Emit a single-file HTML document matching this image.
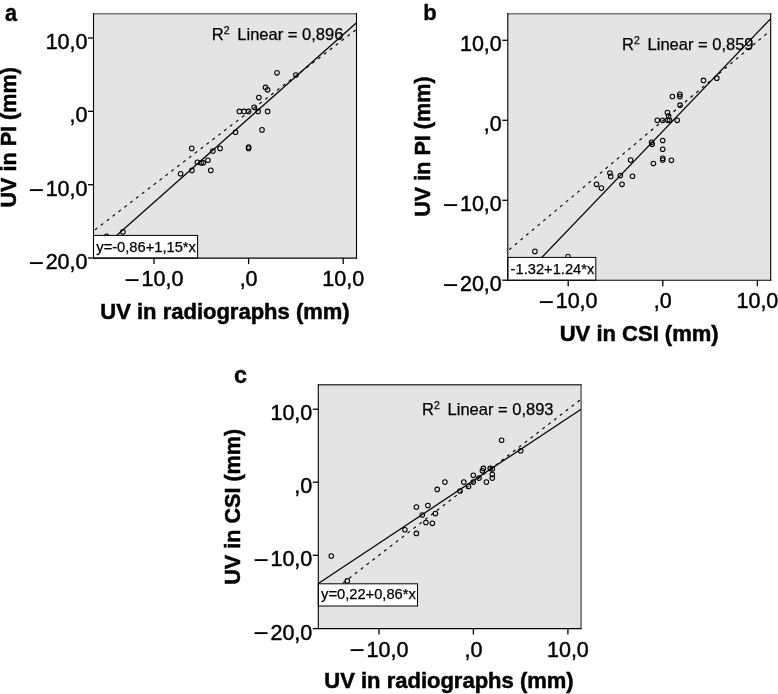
<!DOCTYPE html>
<html><head><meta charset="utf-8"><title>Figure</title>
<style>
html,body{margin:0;padding:0;background:#fff;}
body{width:778px;height:694px;overflow:hidden;}
svg{display:block;font-family:"Liberation Sans",sans-serif;fill:#000;}
</style></head><body>
<svg width="778" height="694" viewBox="0 0 778 694">
<rect width="778" height="694" fill="#fff"/>
<clipPath id="clip0"><rect x="93.5" y="13.75" width="263.0" height="244.35000000000002"/></clipPath>
<rect x="93.5" y="13.75" width="263.0" height="244.35000000000002" fill="#e4e4e4"/>
<g clip-path="url(#clip0)">
<line x1="93.5" y1="231.0" x2="356.5" y2="29.4" stroke="#000" stroke-width="1.15" stroke-dasharray="3.0 4.4" stroke-dashoffset="-1.8"/>
<line x1="93.5" y1="256.0" x2="356.5" y2="22.8" stroke="#000" stroke-width="1.25"/>
<g fill="none" stroke="#000" stroke-width="1.05"><circle cx="277.0" cy="72.8" r="2.3"/><circle cx="295.9" cy="75.0" r="2.3"/><circle cx="265.5" cy="87.4" r="2.3"/><circle cx="267.6" cy="89.8" r="2.3"/><circle cx="258.9" cy="97.6" r="2.3"/><circle cx="254.2" cy="107.3" r="2.3"/><circle cx="239.4" cy="111.4" r="2.3"/><circle cx="244.1" cy="111.4" r="2.3"/><circle cx="248.6" cy="111.4" r="2.3"/><circle cx="258.1" cy="111.4" r="2.3"/><circle cx="267.6" cy="111.4" r="2.3"/><circle cx="262.0" cy="129.9" r="2.3"/><circle cx="235.5" cy="132.2" r="2.3"/><circle cx="248.6" cy="147.0" r="2.3"/><circle cx="248.6" cy="148.4" r="2.3"/><circle cx="191.7" cy="148.4" r="2.3"/><circle cx="220.1" cy="148.4" r="2.3"/><circle cx="212.9" cy="151.1" r="2.3"/><circle cx="207.9" cy="160.2" r="2.3"/><circle cx="197.4" cy="162.2" r="2.3"/><circle cx="201.1" cy="162.8" r="2.3"/><circle cx="203.2" cy="162.8" r="2.3"/><circle cx="210.8" cy="170.4" r="2.3"/><circle cx="191.9" cy="170.4" r="2.3"/><circle cx="180.6" cy="173.7" r="2.3"/><circle cx="122.9" cy="231.9" r="2.3"/><circle cx="106.7" cy="236.2" r="2.3"/></g>
</g>
<rect x="93.5" y="235.4" width="104.1" height="22.700000000000017" fill="#fff" stroke="#000" stroke-width="1"/>
<text x="96.3" y="251.50000000000003" font-size="14.7" stroke="#000" stroke-width="0.25">y=-0,86+1,15*x</text>
<line x1="93.0" y1="13.75" x2="357.0" y2="13.75" stroke="#787878" stroke-width="1.5"/>
<line x1="356.5" y1="13.25" x2="356.5" y2="258.6" stroke="#000" stroke-width="1.1"/>
<line x1="93.5" y1="13.05" x2="93.5" y2="258.6" stroke="#000" stroke-width="1.1"/>
<line x1="93.0" y1="258.1" x2="357.0" y2="258.1" stroke="#000" stroke-width="1.1"/>
<line x1="88.0" y1="38.0" x2="93.5" y2="38.0" stroke="#000" stroke-width="1.3"/>
<text x="87.5" y="49.1" font-size="21.5" text-anchor="end" stroke="#000" stroke-width="0.45">10,0</text>
<line x1="88.0" y1="111.35" x2="93.5" y2="111.35" stroke="#000" stroke-width="1.3"/>
<text x="87.5" y="122.44999999999999" font-size="21.5" text-anchor="end" stroke="#000" stroke-width="0.45">,0</text>
<line x1="88.0" y1="184.7" x2="93.5" y2="184.7" stroke="#000" stroke-width="1.3"/>
<text x="87.5" y="195.79999999999998" font-size="21.5" text-anchor="end" stroke="#000" stroke-width="0.45"><tspan font-size="26.7" dy="2.7" stroke="none">−</tspan><tspan dy="-2.7" dx="1.3">10,0</tspan></text>
<line x1="88.0" y1="258.0" x2="93.5" y2="258.0" stroke="#000" stroke-width="1.3"/>
<text x="87.5" y="269.1" font-size="21.5" text-anchor="end" stroke="#000" stroke-width="0.45"><tspan font-size="26.7" dy="2.7" stroke="none">−</tspan><tspan dy="-2.7" dx="1.3">20,0</tspan></text>
<line x1="154" y1="258.1" x2="154" y2="264.1" stroke="#000" stroke-width="1.3"/>
<text x="154" y="286.1" font-size="21.5" text-anchor="middle" stroke="#000" stroke-width="0.45"><tspan font-size="26.7" dy="2.7" stroke="none">−</tspan><tspan dy="-2.7" dx="1.3">10,0</tspan></text>
<line x1="248.6" y1="258.1" x2="248.6" y2="264.1" stroke="#000" stroke-width="1.3"/>
<text x="248.6" y="286.1" font-size="21.5" text-anchor="middle" stroke="#000" stroke-width="0.45">,0</text>
<line x1="343.2" y1="258.1" x2="343.2" y2="264.1" stroke="#000" stroke-width="1.3"/>
<text x="343.2" y="286.1" font-size="21.5" text-anchor="middle" stroke="#000" stroke-width="0.45">10,0</text>
<text x="211.8" y="40.2" font-size="16.5" stroke="#000" stroke-width="0.25">R<tspan font-size="10.5" dy="-6">2</tspan><tspan dy="6" dx="3.2"> Linear = 0,896</tspan></text>
<text transform="translate(5.1,20.5) scale(1.08,1.18)" font-size="20" font-weight="bold" stroke="#000" stroke-width="0.3">a</text>
<text x="225" y="319.0" font-size="22.0" font-weight="bold" text-anchor="middle" stroke="#000" stroke-width="0.5">UV in radiographs (mm)</text>
<text transform="translate(16,137.3) rotate(-90)" font-size="21.6" font-weight="bold" text-anchor="middle" stroke="#000" stroke-width="0.5">UV in PI (mm)</text>
<clipPath id="clip1"><rect x="507.8" y="13.75" width="262.90000000000003" height="266.45"/></clipPath>
<rect x="507.8" y="13.75" width="262.90000000000003" height="266.45" fill="#e4e4e4"/>
<g clip-path="url(#clip1)">
<line x1="507.8" y1="250.8" x2="770.5" y2="30.4" stroke="#000" stroke-width="1.15" stroke-dasharray="3.0 4.4" stroke-dashoffset="-1.8"/>
<line x1="507.8" y1="292.9" x2="770.5" y2="18.9" stroke="#000" stroke-width="1.25"/>
<g fill="none" stroke="#000" stroke-width="1.05"><circle cx="703.5" cy="80.4" r="2.3"/><circle cx="716.8" cy="78.2" r="2.3"/><circle cx="672.4" cy="96.5" r="2.3"/><circle cx="679.9" cy="94.3" r="2.3"/><circle cx="679.9" cy="96.5" r="2.3"/><circle cx="680.1" cy="105.2" r="2.3"/><circle cx="667.4" cy="112.5" r="2.3"/><circle cx="668.6" cy="116.1" r="2.3"/><circle cx="657.3" cy="120.3" r="2.3"/><circle cx="662.7" cy="120.3" r="2.3"/><circle cx="667.8" cy="120.3" r="2.3"/><circle cx="669.6" cy="120.3" r="2.3"/><circle cx="677.2" cy="120.3" r="2.3"/><circle cx="662.7" cy="140.5" r="2.3"/><circle cx="651.6" cy="142.3" r="2.3"/><circle cx="652.2" cy="144.3" r="2.3"/><circle cx="662.7" cy="149.2" r="2.3"/><circle cx="662.7" cy="158.4" r="2.3"/><circle cx="662.7" cy="160.1" r="2.3"/><circle cx="671.4" cy="160.3" r="2.3"/><circle cx="653.4" cy="163.5" r="2.3"/><circle cx="630.6" cy="160.1" r="2.3"/><circle cx="609.9" cy="173.0" r="2.3"/><circle cx="610.7" cy="176.4" r="2.3"/><circle cx="620.3" cy="175.6" r="2.3"/><circle cx="632.5" cy="176.2" r="2.3"/><circle cx="622.0" cy="184.3" r="2.3"/><circle cx="596.5" cy="184.3" r="2.3"/><circle cx="601.4" cy="188.1" r="2.3"/><circle cx="534.9" cy="251.4" r="2.3"/><circle cx="568.0" cy="256.5" r="2.3"/></g>
</g>
<rect x="507.8" y="257.4" width="87.99999999999994" height="22.80000000000001" fill="#fff" stroke="#000" stroke-width="1"/>
<text x="510.6" y="273.59999999999997" font-size="14.7" stroke="#000" stroke-width="0.25">-1.32+1.24*x</text>
<line x1="507.3" y1="13.75" x2="771.2" y2="13.75" stroke="#787878" stroke-width="1.5"/>
<line x1="770.7" y1="13.25" x2="770.7" y2="280.7" stroke="#000" stroke-width="1.1"/>
<line x1="507.8" y1="13.05" x2="507.8" y2="280.7" stroke="#000" stroke-width="1.1"/>
<line x1="507.3" y1="280.2" x2="771.2" y2="280.2" stroke="#000" stroke-width="1.1"/>
<line x1="502.3" y1="40.3" x2="507.8" y2="40.3" stroke="#000" stroke-width="1.3"/>
<text x="501.8" y="51.4" font-size="21.5" text-anchor="end" stroke="#000" stroke-width="0.45">10,0</text>
<line x1="502.3" y1="120.3" x2="507.8" y2="120.3" stroke="#000" stroke-width="1.3"/>
<text x="501.8" y="131.4" font-size="21.5" text-anchor="end" stroke="#000" stroke-width="0.45">,0</text>
<line x1="502.3" y1="200.3" x2="507.8" y2="200.3" stroke="#000" stroke-width="1.3"/>
<text x="501.8" y="211.4" font-size="21.5" text-anchor="end" stroke="#000" stroke-width="0.45"><tspan font-size="26.7" dy="2.7" stroke="none">−</tspan><tspan dy="-2.7" dx="1.3">10,0</tspan></text>
<line x1="502.3" y1="280.2" x2="507.8" y2="280.2" stroke="#000" stroke-width="1.3"/>
<text x="501.8" y="291.3" font-size="21.5" text-anchor="end" stroke="#000" stroke-width="0.45"><tspan font-size="26.7" dy="2.7" stroke="none">−</tspan><tspan dy="-2.7" dx="1.3">20,0</tspan></text>
<line x1="568.2" y1="280.2" x2="568.2" y2="286.2" stroke="#000" stroke-width="1.3"/>
<text x="568.2" y="308.2" font-size="21.5" text-anchor="middle" stroke="#000" stroke-width="0.45"><tspan font-size="26.7" dy="2.7" stroke="none">−</tspan><tspan dy="-2.7" dx="1.3">10,0</tspan></text>
<line x1="662.8" y1="280.2" x2="662.8" y2="286.2" stroke="#000" stroke-width="1.3"/>
<text x="662.8" y="308.2" font-size="21.5" text-anchor="middle" stroke="#000" stroke-width="0.45">,0</text>
<line x1="757.4" y1="280.2" x2="757.4" y2="286.2" stroke="#000" stroke-width="1.3"/>
<text x="757.4" y="308.2" font-size="21.5" text-anchor="middle" stroke="#000" stroke-width="0.45">10,0</text>
<text x="622" y="49.8" font-size="16.5" stroke="#000" stroke-width="0.25">R<tspan font-size="10.5" dy="-6">2</tspan><tspan dy="6" dx="3.2"> Linear = 0,859</tspan></text>
<text transform="translate(423.2,20.2) scale(1.1,1.13)" font-size="20" font-weight="bold" stroke="#000" stroke-width="0.3">b</text>
<text x="639.2" y="340.5" font-size="22.0" font-weight="bold" text-anchor="middle" stroke="#000" stroke-width="0.5">UV in CSI (mm)</text>
<text transform="translate(430,146.6) rotate(-90)" font-size="21.6" font-weight="bold" text-anchor="middle" stroke="#000" stroke-width="0.5">UV in PI (mm)</text>
<clipPath id="clip2"><rect x="318.3" y="384.7" width="262.8" height="243.90000000000003"/></clipPath>
<rect x="318.3" y="384.7" width="262.8" height="243.90000000000003" fill="#e4e4e4"/>
<g clip-path="url(#clip2)">
<line x1="318.3" y1="602.1" x2="581.1" y2="399.2" stroke="#000" stroke-width="1.15" stroke-dasharray="3.0 4.4" stroke-dashoffset="-1.8"/>
<line x1="318.3" y1="583.5" x2="581.1" y2="409.2" stroke="#000" stroke-width="1.25"/>
<g fill="none" stroke="#000" stroke-width="1.05"><circle cx="501.6" cy="440.2" r="2.3"/><circle cx="520.7" cy="450.7" r="2.3"/><circle cx="483.4" cy="468.4" r="2.3"/><circle cx="482.4" cy="470.8" r="2.3"/><circle cx="490.3" cy="468.4" r="2.3"/><circle cx="492.3" cy="469.0" r="2.3"/><circle cx="492.3" cy="474.5" r="2.3"/><circle cx="492.3" cy="478.1" r="2.3"/><circle cx="486.4" cy="482.1" r="2.3"/><circle cx="473.3" cy="475.3" r="2.3"/><circle cx="479.0" cy="478.1" r="2.3"/><circle cx="473.3" cy="482.1" r="2.3"/><circle cx="463.8" cy="482.1" r="2.3"/><circle cx="468.5" cy="486.4" r="2.3"/><circle cx="444.9" cy="482.1" r="2.3"/><circle cx="437.2" cy="489.4" r="2.3"/><circle cx="460.0" cy="491.0" r="2.3"/><circle cx="416.4" cy="507.1" r="2.3"/><circle cx="427.9" cy="505.5" r="2.3"/><circle cx="422.3" cy="515.0" r="2.3"/><circle cx="435.4" cy="513.6" r="2.3"/><circle cx="425.9" cy="522.5" r="2.3"/><circle cx="432.4" cy="523.3" r="2.3"/><circle cx="404.9" cy="529.7" r="2.3"/><circle cx="416.4" cy="533.4" r="2.3"/><circle cx="331.3" cy="556.0" r="2.3"/><circle cx="347.3" cy="580.9" r="2.3"/></g>
</g>
<rect x="318.3" y="583.8" width="99.19999999999999" height="22.200000000000045" fill="#fff" stroke="#000" stroke-width="1"/>
<text x="321.1" y="599.4" font-size="14.7" stroke="#000" stroke-width="0.25">y=0,22+0,86*x</text>
<line x1="317.8" y1="384.7" x2="581.6" y2="384.7" stroke="#444" stroke-width="1.5"/>
<line x1="581.1" y1="384.2" x2="581.1" y2="629.1" stroke="#333" stroke-width="1.1"/>
<line x1="318.3" y1="384.0" x2="318.3" y2="629.1" stroke="#000" stroke-width="1.1"/>
<line x1="317.8" y1="628.6" x2="581.6" y2="628.6" stroke="#000" stroke-width="1.1"/>
<line x1="312.8" y1="409.2" x2="318.3" y2="409.2" stroke="#000" stroke-width="1.3"/>
<text x="312.3" y="420.3" font-size="21.5" text-anchor="end" stroke="#000" stroke-width="0.45">10,0</text>
<line x1="312.8" y1="482.2" x2="318.3" y2="482.2" stroke="#000" stroke-width="1.3"/>
<text x="312.3" y="493.3" font-size="21.5" text-anchor="end" stroke="#000" stroke-width="0.45">,0</text>
<line x1="312.8" y1="555.3" x2="318.3" y2="555.3" stroke="#000" stroke-width="1.3"/>
<text x="312.3" y="566.4" font-size="21.5" text-anchor="end" stroke="#000" stroke-width="0.45"><tspan font-size="26.7" dy="2.7" stroke="none">−</tspan><tspan dy="-2.7" dx="1.3">10,0</tspan></text>
<line x1="312.8" y1="628.6" x2="318.3" y2="628.6" stroke="#000" stroke-width="1.3"/>
<text x="312.3" y="639.7" font-size="21.5" text-anchor="end" stroke="#000" stroke-width="0.45"><tspan font-size="26.7" dy="2.7" stroke="none">−</tspan><tspan dy="-2.7" dx="1.3">20,0</tspan></text>
<line x1="379" y1="628.6" x2="379" y2="634.6" stroke="#000" stroke-width="1.3"/>
<text x="379" y="656.6" font-size="21.5" text-anchor="middle" stroke="#000" stroke-width="0.45"><tspan font-size="26.7" dy="2.7" stroke="none">−</tspan><tspan dy="-2.7" dx="1.3">10,0</tspan></text>
<line x1="473.4" y1="628.6" x2="473.4" y2="634.6" stroke="#000" stroke-width="1.3"/>
<text x="473.4" y="656.6" font-size="21.5" text-anchor="middle" stroke="#000" stroke-width="0.45">,0</text>
<line x1="567.9" y1="628.6" x2="567.9" y2="634.6" stroke="#000" stroke-width="1.3"/>
<text x="567.9" y="656.6" font-size="21.5" text-anchor="middle" stroke="#000" stroke-width="0.45">10,0</text>
<text x="422" y="415" font-size="16.5" stroke="#000" stroke-width="0.25">R<tspan font-size="10.5" dy="-6">2</tspan><tspan dy="6" dx="3.2"> Linear = 0,893</tspan></text>
<text transform="translate(234,383) scale(1.17,1.24)" font-size="20" font-weight="bold" stroke="#000" stroke-width="0.3">c</text>
<text x="449" y="688.4" font-size="22.0" font-weight="bold" text-anchor="middle" stroke="#000" stroke-width="0.5">UV in radiographs (mm)</text>
<text transform="translate(240,506.8) rotate(-90)" font-size="21.6" font-weight="bold" text-anchor="middle" stroke="#000" stroke-width="0.5">UV in CSI (mm)</text>
</svg>
</body></html>
